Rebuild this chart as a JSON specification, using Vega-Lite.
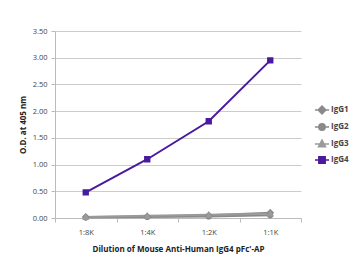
{
  "$schema": "https://vega.github.io/schema/vega-lite/v6.json",
  "width": 246,
  "height": 187,
  "autosize": {"type": "none"},
  "padding": {"left": 55, "top": 31, "right": 59, "bottom": 62},
  "background": "white",
  "config": {
    "view": {"stroke": null},
    "font": "Open Sans",
    "axis": {"labelFont": "Open Sans", "titleFont": "Open Sans", "labelColor": "#444", "titleColor": "#222"}
  },
  "data": {
    "values": [
      {"dil": "1:8K", "ab": "IgG1", "od": 0.02},
      {"dil": "1:4K", "ab": "IgG1", "od": 0.03},
      {"dil": "1:2K", "ab": "IgG1", "od": 0.05},
      {"dil": "1:1K", "ab": "IgG1", "od": 0.1},
      {"dil": "1:8K", "ab": "IgG2", "od": 0.01},
      {"dil": "1:4K", "ab": "IgG2", "od": 0.02},
      {"dil": "1:2K", "ab": "IgG2", "od": 0.03},
      {"dil": "1:1K", "ab": "IgG2", "od": 0.05},
      {"dil": "1:8K", "ab": "IgG3", "od": 0.02},
      {"dil": "1:4K", "ab": "IgG3", "od": 0.04},
      {"dil": "1:2K", "ab": "IgG3", "od": 0.06},
      {"dil": "1:1K", "ab": "IgG3", "od": 0.08},
      {"dil": "1:8K", "ab": "IgG4", "od": 0.48},
      {"dil": "1:4K", "ab": "IgG4", "od": 1.1},
      {"dil": "1:2K", "ab": "IgG4", "od": 1.81},
      {"dil": "1:1K", "ab": "IgG4", "od": 2.95}
    ]
  },
  "encoding": {
    "x": {
      "field": "dil", "type": "ordinal", "sort": ["1:8K", "1:4K", "1:2K", "1:1K"],
      "scale": {"paddingInner": 0, "paddingOuter": 0},
      "axis": {
        "title": "Dilution of Mouse Anti-Human IgG4 pFc'-AP",
        "titleFontSize": 8, "titleFontWeight": "bold", "titlePadding": 10,
        "labelAngle": 0, "labelFontSize": 7.5, "labelPadding": 6,
        "domainColor": "#bbb", "tickColor": "#bbb", "tickBand": "extent", "tickSize": 4
      }
    },
    "y": {
      "field": "od", "type": "quantitative",
      "scale": {"domain": [0, 3.5]},
      "axis": {
        "title": "O.D. at 405 nm", "titleFontSize": 8, "titleFontWeight": "bold", "titlePadding": 5,
        "values": [0, 0.5, 1, 1.5, 2, 2.5, 3, 3.5], "format": ".2f",
        "labelFontSize": 7.5, "labelPadding": 4, "tickSize": 4,
        "gridColor": "#ccc", "domainColor": "#bbb", "tickColor": "#bbb"
      }
    },
    "color": {
      "field": "ab", "type": "nominal",
      "scale": {"domain": ["IgG1", "IgG2", "IgG3", "IgG4"], "range": ["#8a8a8a", "#8a8a8a", "#9a9a9a", "#4a1a9e"]},
      "legend": {
        "title": null, "orient": "none", "legendX": 259, "legendY": 71,
        "labelFontSize": 8, "labelFontWeight": "bold", "labelColor": "#444",
        "symbolSize": 200, "rowPadding": 2, "labelOffset": 1,
        "symbolStrokeWidth": 1.5,
        "encode": {
          "symbols": {
            "update": {
              "stroke": {"scale": "color", "field": "value"},
              "strokeOpacity": {"value": 1},
              "fillOpacity": {"value": 1}
            }
          }
        }
      }
    }
  },
  "layer": [
    {"mark": {"type": "line", "strokeWidth": 2}},
    {
      "mark": {"type": "point", "filled": true, "size": 200, "opacity": 1},
      "encoding": {
        "shape": {
          "field": "ab", "type": "nominal",
          "scale": {
            "domain": ["IgG1", "IgG2", "IgG3", "IgG4"],
            "range": [
              "M-1,0H1M0,-0.55L0.55,0L0,0.55L-0.55,0Z",
              "M-1,0H1M-0.45,0A0.45,0.45,0,1,1,0.45,0A0.45,0.45,0,1,1,-0.45,0Z",
              "M-1,0H1M0,-0.55L0.5,0.4L-0.5,0.4Z",
              "M-1,0H1M-0.45,-0.45H0.45V0.45H-0.45Z"
            ]
          },
          "legend": null
        }
      }
    }
  ]
}
